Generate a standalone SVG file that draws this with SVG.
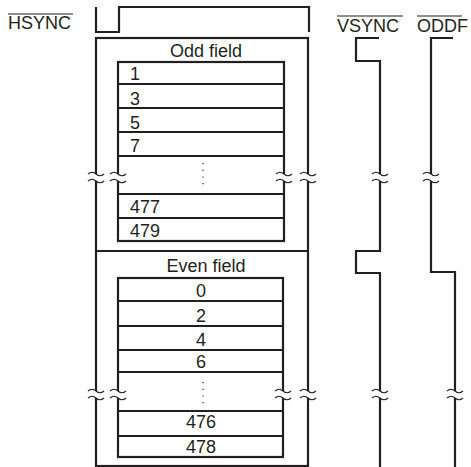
<svg xmlns="http://www.w3.org/2000/svg" width="471" height="467" viewBox="0 0 471 467">
<style>
.ln{fill:none;stroke:#231f20;stroke-width:2.2}
.th{fill:none;stroke:#231f20;stroke-width:1.1}
.dot{fill:none;stroke:#231f20;stroke-width:1.2;stroke-dasharray:1.2 5.5}
.gap{fill:#fff;stroke:none}
text{font-family:"Liberation Sans",Arial,sans-serif;font-size:18px;fill:#231f20}
.c{text-anchor:middle}
</style>
<defs>
<path id="tl" class="th" d="M-8,0 q4,-3.5 8,0 t8,0"/>
<g id="brk">
<rect class="gap" x="-3" y="-3" width="6" height="7"/>
<use href="#tl" y="-3"/>
<use href="#tl" y="4"/>
</g>
</defs>
<rect width="471" height="467" fill="#fff"/>

<g id="hsync">
<text x="8" y="29">HSYNC</text>
<line class="th" x1="8" y1="14" x2="73" y2="14"/>
<path class="ln" d="M96,7 V32 H119 V7 H309 V32"/>
</g>

<g id="frame">
<rect class="ln" x="96" y="38" width="212" height="428"/>
<line class="ln" x1="96" y1="251" x2="308" y2="251"/>
</g>

<g id="odd-field">
<text class="c" x="206" y="57">Odd field</text>
<rect class="ln" x="118" y="62" width="166" height="179"/>
<path class="ln" d="M118,84 H284 M118,108 H284 M118,132 H284 M118,156 H284 M118,194 H284 M118,218 H284"/>
<line class="dot" x1="203" y1="163" x2="203" y2="188"/>
<text x="130" y="80">1</text>
<text x="130" y="105">3</text>
<text x="130" y="129">5</text>
<text x="130" y="152">7</text>
<text x="130" y="213">477</text>
<text x="130" y="237">479</text>
</g>

<g id="even-field">
<text class="c" x="206" y="272">Even field</text>
<rect class="ln" x="118" y="278" width="165" height="179"/>
<path class="ln" d="M118,301 H283 M118,326 H283 M118,350 H283 M118,372 H283 M118,411 H283 M118,436 H283"/>
<line class="dot" x1="203" y1="382" x2="203" y2="406"/>
<text class="c" x="201" y="297">0</text>
<text class="c" x="201" y="322">2</text>
<text class="c" x="201" y="346">4</text>
<text class="c" x="201" y="368">6</text>
<text class="c" x="201" y="428">476</text>
<text class="c" x="201" y="453">478</text>
</g>

<g id="vsync">
<text x="337" y="32">VSYNC</text>
<line class="th" x1="337" y1="16" x2="403" y2="16"/>
<path class="ln" d="M379,38 H356 V61 H380 V251 H356 V273 H380 V467"/>
</g>

<g id="oddf">
<text x="417" y="32">ODDF</text>
<line class="th" x1="417" y1="16" x2="462" y2="16"/>
<path class="ln" d="M453,38 H431 V272 H455 V467"/>
</g>

<g id="connectors">
<use href="#brk" x="96" y="177"/>
<use href="#brk" x="118" y="177"/>
<use href="#brk" x="284" y="177"/>
<use href="#brk" x="308" y="177"/>
<use href="#brk" x="380" y="177"/>
<use href="#brk" x="431" y="177"/>
<use href="#brk" x="96" y="394"/>
<use href="#brk" x="118" y="394"/>
<use href="#brk" x="283" y="394"/>
<use href="#brk" x="308" y="394"/>
<use href="#brk" x="380" y="394"/>
<use href="#brk" x="455" y="394"/>
</g>
</svg>
